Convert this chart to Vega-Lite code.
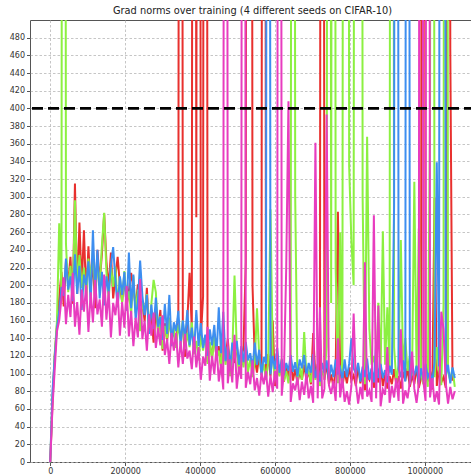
{
"$schema": "https://vega.github.io/schema/vega-lite/v6.json",
"width": 445,
"height": 442,
"autosize": {"type": "none"},
"padding": {"left": 30, "top": 20, "right": 0, "bottom": 14},
"title": {"text": "Grad norms over training (4 different seeds on CIFAR-10)", "font": "DejaVu Sans", "fontSize": 9.8, "fontWeight": "normal", "color": "#222222", "offset": 4},
"config": {
"view": {"stroke": "#555555", "strokeWidth": 1},
"axis": {"labelFont": "DejaVu Sans", "labelFontSize": 8, "labelColor": "#333333", "tickColor": "#555555", "tickSize": 3.5, "domain": false, "grid": true, "gridColor": "#b8b8b8", "gridDash": [2.5, 2], "gridWidth": 0.8, "title": null, "labelPadding": 2}
},
"datasets": {
"r": [{"x":0,"y":0},{"x":6000,"y":66},{"x":12000,"y":120},{"x":18000,"y":155},{"x":24000,"y":185},{"x":30000,"y":215},{"x":36000,"y":176},{"x":42000,"y":227},{"x":48000,"y":202},{"x":54000,"y":232},{"x":60000,"y":179},{"x":66000,"y":315},{"x":72000,"y":190},{"x":78000,"y":271},{"x":84000,"y":199},{"x":90000,"y":262},{"x":96000,"y":185},{"x":102000,"y":244},{"x":108000,"y":193},{"x":114000,"y":230},{"x":120000,"y":174},{"x":126000,"y":240},{"x":132000,"y":204},{"x":138000,"y":235},{"x":144000,"y":281},{"x":150000,"y":227},{"x":156000,"y":197},{"x":162000,"y":237},{"x":168000,"y":185},{"x":174000,"y":210},{"x":180000,"y":232},{"x":186000,"y":200},{"x":192000,"y":181},{"x":198000,"y":211},{"x":204000,"y":176},{"x":210000,"y":194},{"x":216000,"y":214},{"x":222000,"y":197},{"x":228000,"y":176},{"x":234000,"y":201},{"x":240000,"y":157},{"x":246000,"y":182},{"x":252000,"y":159},{"x":258000,"y":197},{"x":264000,"y":146},{"x":270000,"y":165},{"x":276000,"y":135},{"x":282000,"y":172},{"x":288000,"y":149},{"x":294000,"y":172},{"x":300000,"y":126},{"x":306000,"y":157},{"x":312000,"y":137},{"x":318000,"y":163},{"x":324000,"y":140},{"x":330000,"y":148},{"x":336000,"y":130},{"x":342000,"y":170},{"x":348000,"y":3000},{"x":354000,"y":152},{"x":360000,"y":119},{"x":366000,"y":160},{"x":372000,"y":214},{"x":378000,"y":150},{"x":384000,"y":3000},{"x":390000,"y":277},{"x":396000,"y":3000},{"x":402000,"y":140},{"x":408000,"y":187},{"x":414000,"y":3000},{"x":420000,"y":113},{"x":426000,"y":133},{"x":432000,"y":119},{"x":438000,"y":142},{"x":444000,"y":117},{"x":450000,"y":131},{"x":456000,"y":108},{"x":462000,"y":134},{"x":468000,"y":119},{"x":474000,"y":139},{"x":480000,"y":107},{"x":486000,"y":124},{"x":492000,"y":112},{"x":498000,"y":134},{"x":504000,"y":104},{"x":510000,"y":116},{"x":516000,"y":130},{"x":522000,"y":226},{"x":528000,"y":3000},{"x":534000,"y":3000},{"x":540000,"y":200},{"x":546000,"y":117},{"x":552000,"y":101},{"x":558000,"y":122},{"x":564000,"y":103},{"x":570000,"y":3000},{"x":576000,"y":95},{"x":582000,"y":122},{"x":588000,"y":97},{"x":594000,"y":160},{"x":600000,"y":86},{"x":606000,"y":105},{"x":612000,"y":100},{"x":618000,"y":112},{"x":624000,"y":91},{"x":630000,"y":109},{"x":636000,"y":96},{"x":642000,"y":116},{"x":648000,"y":92},{"x":654000,"y":105},{"x":660000,"y":89},{"x":666000,"y":102},{"x":672000,"y":93},{"x":678000,"y":110},{"x":684000,"y":93},{"x":690000,"y":103},{"x":696000,"y":88},{"x":702000,"y":146},{"x":708000,"y":97},{"x":714000,"y":111},{"x":720000,"y":90},{"x":726000,"y":3000},{"x":732000,"y":93},{"x":738000,"y":112},{"x":744000,"y":88},{"x":750000,"y":99},{"x":756000,"y":85},{"x":762000,"y":104},{"x":768000,"y":283},{"x":774000,"y":106},{"x":780000,"y":85},{"x":786000,"y":103},{"x":792000,"y":89},{"x":798000,"y":107},{"x":804000,"y":92},{"x":810000,"y":98},{"x":816000,"y":86},{"x":822000,"y":109},{"x":828000,"y":89},{"x":834000,"y":104},{"x":840000,"y":81},{"x":846000,"y":98},{"x":852000,"y":93},{"x":858000,"y":105},{"x":864000,"y":84},{"x":870000,"y":102},{"x":876000,"y":90},{"x":882000,"y":110},{"x":888000,"y":86},{"x":894000,"y":99},{"x":900000,"y":83},{"x":906000,"y":97},{"x":912000,"y":88},{"x":918000,"y":105},{"x":924000,"y":87},{"x":930000,"y":97},{"x":936000,"y":83},{"x":942000,"y":102},{"x":948000,"y":92},{"x":954000,"y":106},{"x":960000,"y":85},{"x":966000,"y":98},{"x":972000,"y":88},{"x":978000,"y":108},{"x":984000,"y":84},{"x":990000,"y":95},{"x":996000,"y":3000},{"x":1002000,"y":101},{"x":1008000,"y":91},{"x":1014000,"y":103},{"x":1020000,"y":82},{"x":1026000,"y":299},{"x":1032000,"y":86},{"x":1038000,"y":105},{"x":1044000,"y":90},{"x":1050000,"y":96},{"x":1056000,"y":84},{"x":1062000,"y":3000},{"x":1068000,"y":468},{"x":1074000,"y":92}],
"g": [{"x":0,"y":0},{"x":6000,"y":72},{"x":12000,"y":122},{"x":18000,"y":160},{"x":24000,"y":270},{"x":30000,"y":192},{"x":36000,"y":3000},{"x":42000,"y":247},{"x":48000,"y":192},{"x":54000,"y":222},{"x":60000,"y":184},{"x":66000,"y":296},{"x":72000,"y":197},{"x":78000,"y":234},{"x":84000,"y":197},{"x":90000,"y":220},{"x":96000,"y":187},{"x":102000,"y":230},{"x":108000,"y":207},{"x":114000,"y":240},{"x":120000,"y":192},{"x":126000,"y":222},{"x":132000,"y":200},{"x":138000,"y":245},{"x":144000,"y":282},{"x":150000,"y":215},{"x":156000,"y":184},{"x":162000,"y":221},{"x":168000,"y":198},{"x":174000,"y":221},{"x":180000,"y":177},{"x":186000,"y":209},{"x":192000,"y":181},{"x":198000,"y":216},{"x":204000,"y":182},{"x":210000,"y":193},{"x":216000,"y":167},{"x":222000,"y":210},{"x":228000,"y":169},{"x":234000,"y":195},{"x":240000,"y":148},{"x":246000,"y":182},{"x":252000,"y":169},{"x":258000,"y":190},{"x":264000,"y":146},{"x":270000,"y":179},{"x":276000,"y":206},{"x":282000,"y":192},{"x":288000,"y":141},{"x":294000,"y":165},{"x":300000,"y":128},{"x":306000,"y":154},{"x":312000,"y":140},{"x":318000,"y":163},{"x":324000,"y":138},{"x":330000,"y":152},{"x":336000,"y":129},{"x":342000,"y":155},{"x":348000,"y":140},{"x":354000,"y":160},{"x":360000,"y":128},{"x":366000,"y":146},{"x":372000,"y":130},{"x":378000,"y":158},{"x":384000,"y":122},{"x":390000,"y":137},{"x":396000,"y":115},{"x":402000,"y":143},{"x":408000,"y":126},{"x":414000,"y":143},{"x":420000,"y":111},{"x":426000,"y":136},{"x":432000,"y":116},{"x":438000,"y":142},{"x":444000,"y":118},{"x":450000,"y":126},{"x":456000,"y":108},{"x":462000,"y":140},{"x":468000,"y":110},{"x":474000,"y":130},{"x":480000,"y":97},{"x":486000,"y":121},{"x":492000,"y":211},{"x":498000,"y":128},{"x":504000,"y":102},{"x":510000,"y":122},{"x":516000,"y":107},{"x":522000,"y":131},{"x":528000,"y":102},{"x":534000,"y":116},{"x":540000,"y":96},{"x":546000,"y":113},{"x":552000,"y":174},{"x":558000,"y":120},{"x":564000,"y":99},{"x":570000,"y":111},{"x":576000,"y":93},{"x":582000,"y":114},{"x":588000,"y":286},{"x":594000,"y":118},{"x":600000,"y":93},{"x":606000,"y":107},{"x":612000,"y":97},{"x":618000,"y":117},{"x":624000,"y":92},{"x":630000,"y":103},{"x":636000,"y":89},{"x":642000,"y":109},{"x":648000,"y":3000},{"x":654000,"y":300},{"x":660000,"y":90},{"x":666000,"y":107},{"x":672000,"y":93},{"x":678000,"y":147},{"x":684000,"y":97},{"x":690000,"y":103},{"x":696000,"y":90},{"x":702000,"y":113},{"x":708000,"y":93},{"x":714000,"y":108},{"x":720000,"y":86},{"x":726000,"y":102},{"x":732000,"y":97},{"x":738000,"y":130},{"x":744000,"y":3000},{"x":750000,"y":180},{"x":756000,"y":3000},{"x":762000,"y":220},{"x":768000,"y":89},{"x":774000,"y":260},{"x":780000,"y":86},{"x":786000,"y":3000},{"x":792000,"y":3000},{"x":798000,"y":335},{"x":804000,"y":250},{"x":810000,"y":200},{"x":816000,"y":3000},{"x":822000,"y":3000},{"x":828000,"y":3000},{"x":834000,"y":300},{"x":840000,"y":88},{"x":846000,"y":368},{"x":852000,"y":150},{"x":858000,"y":110},{"x":864000,"y":120},{"x":870000,"y":97},{"x":876000,"y":180},{"x":882000,"y":103},{"x":888000,"y":261},{"x":894000,"y":110},{"x":900000,"y":175},{"x":906000,"y":101},{"x":912000,"y":3000},{"x":918000,"y":130},{"x":924000,"y":91},{"x":930000,"y":110},{"x":936000,"y":251},{"x":942000,"y":108},{"x":948000,"y":140},{"x":954000,"y":103},{"x":960000,"y":120},{"x":966000,"y":98},{"x":972000,"y":317},{"x":978000,"y":104},{"x":984000,"y":264},{"x":990000,"y":101},{"x":996000,"y":88},{"x":1002000,"y":109},{"x":1008000,"y":85},{"x":1014000,"y":393},{"x":1020000,"y":3000},{"x":1026000,"y":96},{"x":1032000,"y":130},{"x":1038000,"y":104},{"x":1044000,"y":87},{"x":1050000,"y":178},{"x":1056000,"y":3000},{"x":1062000,"y":102},{"x":1068000,"y":92},{"x":1074000,"y":106},{"x":1080000,"y":85}],
"b": [{"x":0,"y":0},{"x":6000,"y":80},{"x":12000,"y":118},{"x":18000,"y":152},{"x":24000,"y":170},{"x":30000,"y":198},{"x":36000,"y":188},{"x":42000,"y":230},{"x":48000,"y":195},{"x":54000,"y":210},{"x":60000,"y":182},{"x":66000,"y":235},{"x":72000,"y":190},{"x":78000,"y":222},{"x":84000,"y":172},{"x":90000,"y":212},{"x":96000,"y":200},{"x":102000,"y":227},{"x":108000,"y":180},{"x":114000,"y":262},{"x":120000,"y":192},{"x":126000,"y":240},{"x":132000,"y":185},{"x":138000,"y":215},{"x":144000,"y":177},{"x":150000,"y":210},{"x":156000,"y":192},{"x":162000,"y":223},{"x":168000,"y":243},{"x":174000,"y":206},{"x":180000,"y":175},{"x":186000,"y":210},{"x":192000,"y":189},{"x":198000,"y":215},{"x":204000,"y":171},{"x":210000,"y":237},{"x":216000,"y":174},{"x":222000,"y":212},{"x":228000,"y":161},{"x":234000,"y":181},{"x":240000,"y":228},{"x":246000,"y":188},{"x":252000,"y":166},{"x":258000,"y":189},{"x":264000,"y":145},{"x":270000,"y":178},{"x":276000,"y":151},{"x":282000,"y":186},{"x":288000,"y":153},{"x":294000,"y":164},{"x":300000,"y":138},{"x":306000,"y":179},{"x":312000,"y":145},{"x":318000,"y":189},{"x":324000,"y":131},{"x":330000,"y":158},{"x":336000,"y":148},{"x":342000,"y":171},{"x":348000,"y":132},{"x":354000,"y":160},{"x":360000,"y":139},{"x":366000,"y":172},{"x":372000,"y":132},{"x":378000,"y":152},{"x":384000,"y":124},{"x":390000,"y":172},{"x":396000,"y":131},{"x":402000,"y":157},{"x":408000,"y":129},{"x":414000,"y":144},{"x":420000,"y":120},{"x":426000,"y":150},{"x":432000,"y":132},{"x":438000,"y":155},{"x":444000,"y":120},{"x":450000,"y":175},{"x":456000,"y":123},{"x":462000,"y":170},{"x":468000,"y":114},{"x":474000,"y":131},{"x":480000,"y":106},{"x":486000,"y":135},{"x":492000,"y":122},{"x":498000,"y":137},{"x":504000,"y":110},{"x":510000,"y":131},{"x":516000,"y":113},{"x":522000,"y":136},{"x":528000,"y":115},{"x":534000,"y":123},{"x":540000,"y":106},{"x":546000,"y":135},{"x":552000,"y":110},{"x":558000,"y":127},{"x":564000,"y":98},{"x":570000,"y":119},{"x":576000,"y":111},{"x":582000,"y":3000},{"x":588000,"y":99},{"x":594000,"y":120},{"x":600000,"y":105},{"x":606000,"y":129},{"x":612000,"y":101},{"x":618000,"y":116},{"x":624000,"y":98},{"x":630000,"y":112},{"x":636000,"y":103},{"x":642000,"y":121},{"x":648000,"y":102},{"x":654000,"y":113},{"x":660000,"y":97},{"x":666000,"y":116},{"x":672000,"y":106},{"x":678000,"y":121},{"x":684000,"y":97},{"x":690000,"y":112},{"x":696000,"y":101},{"x":702000,"y":122},{"x":708000,"y":95},{"x":714000,"y":107},{"x":720000,"y":91},{"x":726000,"y":112},{"x":732000,"y":101},{"x":738000,"y":115},{"x":744000,"y":92},{"x":750000,"y":110},{"x":756000,"y":96},{"x":762000,"y":116},{"x":768000,"y":99},{"x":774000,"y":106},{"x":780000,"y":93},{"x":786000,"y":116},{"x":792000,"y":96},{"x":798000,"y":111},{"x":804000,"y":140},{"x":810000,"y":106},{"x":816000,"y":100},{"x":822000,"y":112},{"x":828000,"y":91},{"x":834000,"y":108},{"x":840000,"y":96},{"x":846000,"y":117},{"x":852000,"y":93},{"x":858000,"y":106},{"x":864000,"y":90},{"x":870000,"y":135},{"x":876000,"y":95},{"x":882000,"y":111},{"x":888000,"y":95},{"x":894000,"y":104},{"x":900000,"y":90},{"x":906000,"y":109},{"x":912000,"y":99},{"x":918000,"y":290},{"x":924000,"y":3000},{"x":930000,"y":105},{"x":936000,"y":96},{"x":942000,"y":115},{"x":948000,"y":91},{"x":954000,"y":3000},{"x":960000,"y":88},{"x":966000,"y":107},{"x":972000,"y":98},{"x":978000,"y":109},{"x":984000,"y":89},{"x":990000,"y":106},{"x":996000,"y":93},{"x":1002000,"y":111},{"x":1008000,"y":96},{"x":1014000,"y":102},{"x":1020000,"y":90},{"x":1026000,"y":113},{"x":1032000,"y":339},{"x":1038000,"y":108},{"x":1044000,"y":3000},{"x":1050000,"y":3000},{"x":1056000,"y":98},{"x":1062000,"y":110},{"x":1068000,"y":89},{"x":1074000,"y":107},{"x":1080000,"y":95}],
"m": [{"x":0,"y":0},{"x":6000,"y":62},{"x":12000,"y":105},{"x":18000,"y":148},{"x":24000,"y":160},{"x":30000,"y":185},{"x":36000,"y":209},{"x":42000,"y":156},{"x":48000,"y":189},{"x":54000,"y":164},{"x":60000,"y":214},{"x":66000,"y":153},{"x":72000,"y":181},{"x":78000,"y":144},{"x":84000,"y":195},{"x":90000,"y":170},{"x":96000,"y":200},{"x":102000,"y":147},{"x":108000,"y":192},{"x":114000,"y":158},{"x":120000,"y":206},{"x":126000,"y":167},{"x":132000,"y":184},{"x":138000,"y":153},{"x":144000,"y":212},{"x":150000,"y":161},{"x":156000,"y":193},{"x":162000,"y":141},{"x":168000,"y":180},{"x":174000,"y":166},{"x":180000,"y":192},{"x":186000,"y":143},{"x":192000,"y":181},{"x":198000,"y":152},{"x":204000,"y":199},{"x":210000,"y":142},{"x":216000,"y":171},{"x":222000,"y":131},{"x":228000,"y":163},{"x":234000,"y":141},{"x":240000,"y":207},{"x":246000,"y":139},{"x":252000,"y":160},{"x":258000,"y":126},{"x":264000,"y":167},{"x":270000,"y":143},{"x":276000,"y":169},{"x":282000,"y":129},{"x":288000,"y":152},{"x":294000,"y":132},{"x":300000,"y":166},{"x":306000,"y":121},{"x":312000,"y":139},{"x":318000,"y":111},{"x":324000,"y":146},{"x":330000,"y":126},{"x":336000,"y":146},{"x":342000,"y":107},{"x":348000,"y":137},{"x":354000,"y":111},{"x":360000,"y":145},{"x":366000,"y":117},{"x":372000,"y":126},{"x":378000,"y":105},{"x":384000,"y":142},{"x":390000,"y":107},{"x":396000,"y":130},{"x":402000,"y":93},{"x":408000,"y":119},{"x":414000,"y":109},{"x":420000,"y":153},{"x":426000,"y":92},{"x":432000,"y":120},{"x":438000,"y":99},{"x":444000,"y":131},{"x":450000,"y":91},{"x":456000,"y":111},{"x":462000,"y":82},{"x":468000,"y":3000},{"x":474000,"y":89},{"x":480000,"y":116},{"x":486000,"y":90},{"x":492000,"y":144},{"x":498000,"y":83},{"x":504000,"y":108},{"x":510000,"y":94},{"x":516000,"y":3000},{"x":522000,"y":84},{"x":528000,"y":102},{"x":534000,"y":88},{"x":540000,"y":115},{"x":546000,"y":81},{"x":552000,"y":95},{"x":558000,"y":75},{"x":564000,"y":101},{"x":570000,"y":88},{"x":576000,"y":103},{"x":582000,"y":74},{"x":588000,"y":98},{"x":594000,"y":79},{"x":600000,"y":103},{"x":606000,"y":83},{"x":612000,"y":3000},{"x":618000,"y":75},{"x":624000,"y":103},{"x":630000,"y":219},{"x":636000,"y":408},{"x":642000,"y":68},{"x":648000,"y":89},{"x":654000,"y":81},{"x":660000,"y":96},{"x":666000,"y":70},{"x":672000,"y":91},{"x":678000,"y":76},{"x":684000,"y":100},{"x":690000,"y":72},{"x":696000,"y":86},{"x":702000,"y":67},{"x":708000,"y":361},{"x":714000,"y":72},{"x":720000,"y":175},{"x":726000,"y":72},{"x":732000,"y":83},{"x":738000,"y":393},{"x":744000,"y":87},{"x":750000,"y":77},{"x":756000,"y":92},{"x":762000,"y":69},{"x":768000,"y":140},{"x":774000,"y":73},{"x":780000,"y":95},{"x":786000,"y":68},{"x":792000,"y":80},{"x":798000,"y":65},{"x":804000,"y":86},{"x":810000,"y":168},{"x":816000,"y":89},{"x":822000,"y":66},{"x":828000,"y":85},{"x":834000,"y":71},{"x":840000,"y":226},{"x":846000,"y":74},{"x":852000,"y":81},{"x":858000,"y":68},{"x":864000,"y":279},{"x":870000,"y":72},{"x":876000,"y":177},{"x":882000,"y":63},{"x":888000,"y":82},{"x":894000,"y":76},{"x":900000,"y":130},{"x":906000,"y":67},{"x":912000,"y":86},{"x":918000,"y":73},{"x":924000,"y":95},{"x":930000,"y":69},{"x":936000,"y":150},{"x":942000,"y":66},{"x":948000,"y":81},{"x":954000,"y":72},{"x":960000,"y":90},{"x":966000,"y":125},{"x":972000,"y":83},{"x":978000,"y":67},{"x":984000,"y":88},{"x":990000,"y":3000},{"x":996000,"y":92},{"x":1002000,"y":69},{"x":1008000,"y":3000},{"x":1014000,"y":73},{"x":1020000,"y":95},{"x":1026000,"y":68},{"x":1032000,"y":80},{"x":1038000,"y":65},{"x":1044000,"y":170},{"x":1050000,"y":150},{"x":1056000,"y":89},{"x":1062000,"y":66},{"x":1068000,"y":85},{"x":1074000,"y":71},{"x":1080000,"y":80}],
"ref": [{"y":400}]
},
"encoding": {
"x": {"field": "x", "type": "quantitative", "scale": {"domain": [-54000, 1134000], "nice": false, "zero": false}, "axis": {"values": [0, 200000, 400000, 600000, 800000, 1000000], "format": "d"}},
"y": {"field": "y", "type": "quantitative", "scale": {"domain": [0, 500], "nice": false}, "axis": {"values": [0,20,40,60,80,100,120,140,160,180,200,220,240,260,280,300,320,340,360,380,400,420,440,460,480], "format": "d"}}
},
"layer": [
{"data": {"name": "r"}, "mark": {"type": "line", "color": "#e8302e", "strokeWidth": 2, "clip": true}},
{"data": {"name": "g"}, "mark": {"type": "line", "color": "#8cf041", "strokeWidth": 2, "clip": true}},
{"data": {"name": "b"}, "mark": {"type": "line", "color": "#3d8ef0", "strokeWidth": 2, "clip": true}},
{"data": {"name": "m"}, "mark": {"type": "line", "color": "#e83cbf", "strokeWidth": 2, "clip": true}},
{"data": {"name": "ref"}, "mark": {"type": "rule", "color": "#000000", "strokeWidth": 2.6, "strokeDash": [11, 5]}, "encoding": {"y": {"field": "y", "type": "quantitative"}, "x": null}}
]
}
